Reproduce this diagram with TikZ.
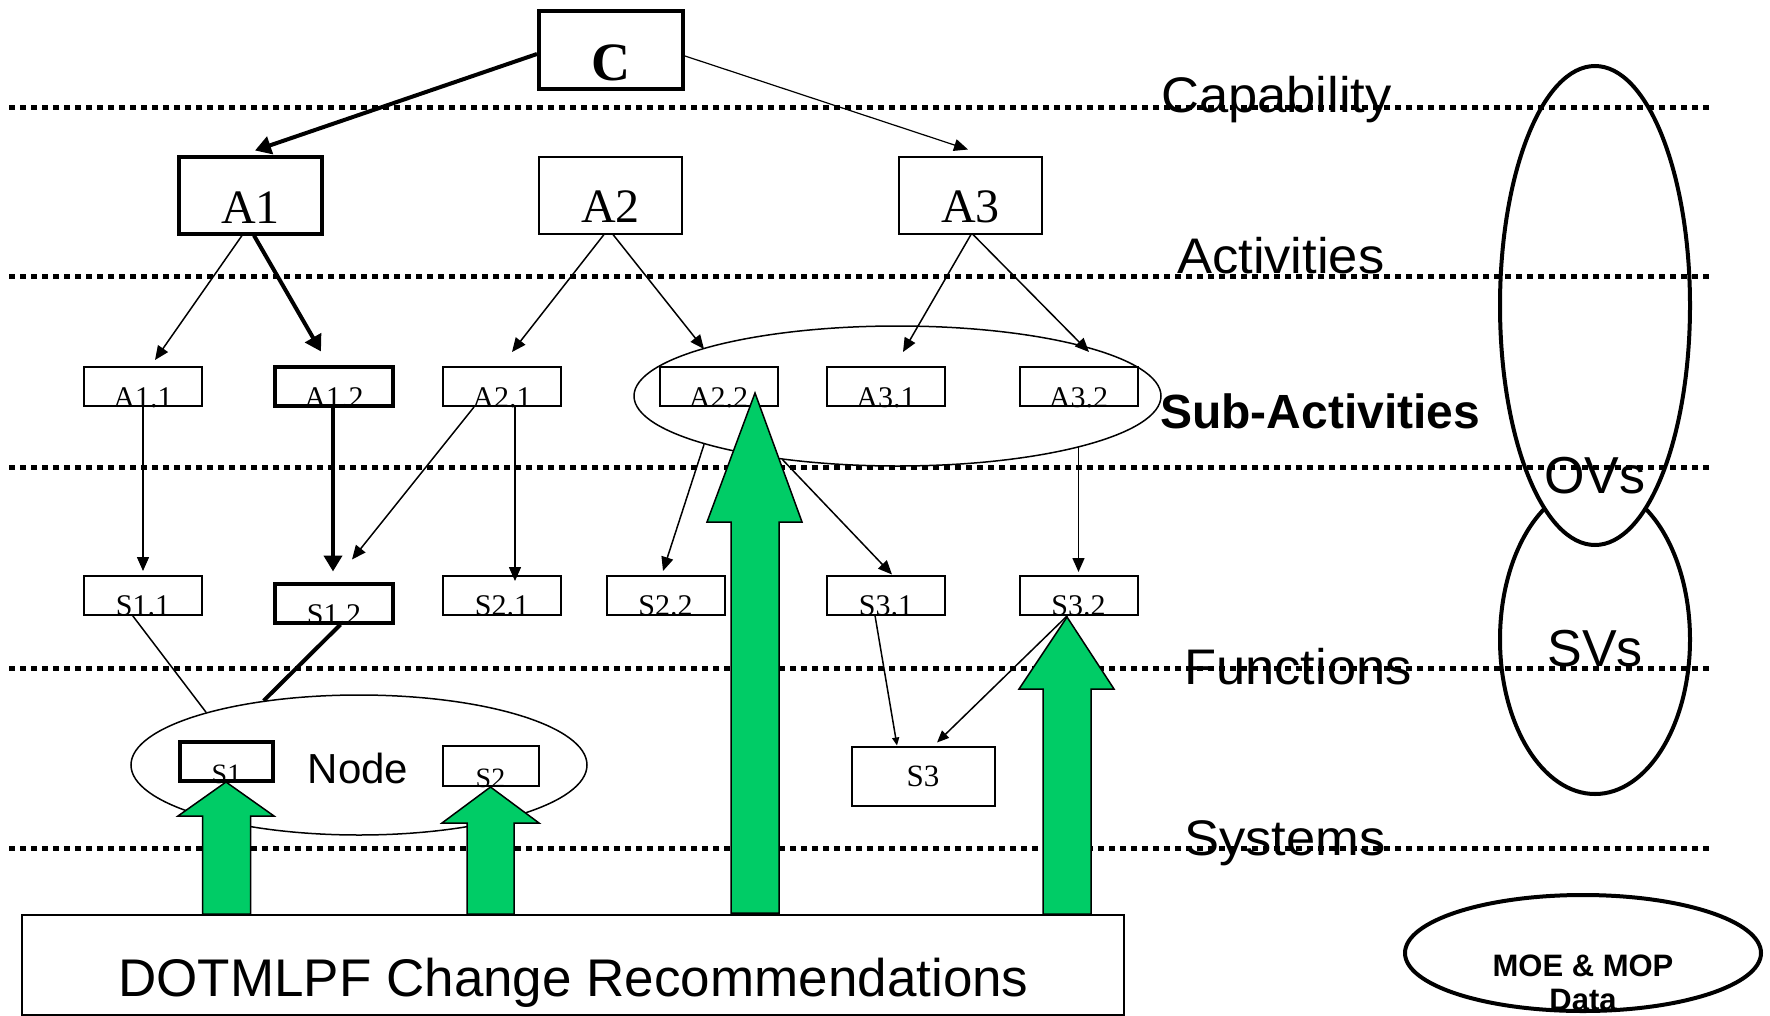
\documentclass[tikz,border=0pt]{standalone}
\usepackage{fontspec}
\setmainfont{Liberation Serif}
\newfontfamily\lblfont[FakeStretch=1.05]{Liberation Sans}
\newfontfamily\arialfont{Liberation Sans}
\usetikzlibrary{arrows.meta,shapes.geometric}
\definecolor{fgreen}{RGB}{0,204,102}
\begin{document}
\begin{tikzpicture}[x=1pt,y=-1pt,
  bx/.style={draw, rectangle, line width=2pt, inner sep=0pt},
  tbx/.style={bx, line width=4pt},
  ell/.style={draw, ellipse, inner sep=0pt},
  rowbox/.style={minimum width=118pt, minimum height=39pt},
  topbox/.style={minimum width=143pt, minimum height=77pt},
  dotline/.style={line width=5pt, dash pattern=on 5.5pt off 5.5pt},
  bigtxt/.style={font=\fontsize{48}{57}\selectfont, inner sep=0pt, anchor=base},
  smalltxt/.style={font=\fontsize{30}{36}\selectfont, inner sep=0pt, anchor=base},
  lbl/.style={font=\lblfont\fontsize{50}{60}\selectfont, inner sep=0pt, anchor=base west},
  sublbl/.style={font=\arialfont\bfseries\fontsize{48}{58}\selectfont, inner sep=0pt, anchor=base west},
  viewtxt/.style={font=\arialfont\fontsize{52}{62}\selectfont, inner sep=0pt, anchor=base},
  arr/.style={-{Triangle[length=14pt,width=12pt]}, line width=1.5pt},
  tarr/.style={-{Triangle[length=16pt,width=18pt]}, line width=4pt},
  garrow/.style={fill=fgreen, draw=black, line width=1.5pt, line join=miter}
]
\useasboundingbox (0,0) rectangle (1770,1015);
\clip (0,0) rectangle (1770,1015);

% view ellipses
\node[ell, line width=4pt, fill=white, minimum width=190pt, minimum height=309pt] (SV) at (1595,639.5) {};
\node[ell, line width=4pt, fill=white, minimum width=190pt, minimum height=479pt] (OV) at (1595,305.5) {};
\node[ell, line width=4pt, minimum width=356pt, minimum height=116pt] (MOE) at (1583,953) {};

% dotted level lines
\foreach \yy in {107,276,467,668,848} \draw[dotline] (9,\yy) -- (1711,\yy);

% top boxes
\node[tbx, minimum width=144pt, minimum height=78pt] (C) at (611,50) {};
\node[tbx, topbox] (A1) at (250.5,195) {};
\node[bx, topbox] (A2) at (610.5,195) {};
\node[bx, topbox] (A3) at (970.5,195) {};

% sub-activity boxes
\node[bx, rowbox] (A11) at (143,386.5) {};
\node[tbx, rowbox] (A12) at (334,386) {};
\node[bx, rowbox] (A21) at (502,386.5) {};
\node[bx, rowbox] (A22) at (718.5,386.5) {};
\node[bx, rowbox] (A31) at (886,386.5) {};
\node[bx, rowbox] (A32) at (1078.5,386.5) {};

% function boxes
\node[bx, rowbox] (S11) at (143,595) {};
\node[tbx, rowbox] (S12) at (334,603) {};
\node[bx, rowbox] (S21) at (502,595) {};
\node[bx, rowbox] (S22) at (665.5,595) {};
\node[bx, rowbox] (S31) at (886,595) {};
\node[bx, rowbox] (S32) at (1078.5,595) {};

% system boxes
\node[tbx, minimum width=93pt, minimum height=39pt] (S1) at (226.5,761.5) {};
\node[bx, minimum width=96pt, minimum height=40pt] (S2) at (490.5,766) {};
\node[bx, minimum width=143pt, minimum height=59pt, font=\fontsize{31}{37}\selectfont] (S3) at (923,776) {S3};

% ellipses around groups
\node[ell, line width=1.5pt, minimum width=527pt, minimum height=140pt] (SubE) at (897.5,396) {};
\node[ell, line width=1.5pt, minimum width=456pt, minimum height=140pt] (NodeE) at (359,765) {};

% box texts
\node[bigtxt, font=\bfseries\fontsize{54}{64}\selectfont] (tC) at ([yshift=11pt]C.south) {C};
\node[bigtxt] (tA1) at ([yshift=12pt]A1.south) {A1};
\node[bigtxt] (tA2) at ([yshift=12pt]A2.south) {A2};
\node[bigtxt] (tA3) at ([yshift=12pt]A3.south) {A3};
\node[smalltxt] (tA11) at (A11.south) {A1.1};
\node[smalltxt] (tA12) at (A12.south) {A1.2};
\node[smalltxt] (tA21) at (A21.south) {A2.1};
\node[smalltxt] (tA22) at (A22.south) {A2.2};
\node[smalltxt] (tA31) at (A31.south) {A3.1};
\node[smalltxt] (tA32) at (A32.south) {A3.2};
\node[smalltxt] (tS11) at (S11.south) {S1.1};
\node[smalltxt] (tS12) at (S12.south) {S1.2};
\node[smalltxt] (tS21) at (S21.south) {S2.1};
\node[smalltxt] (tS22) at (S22.south) {S2.2};
\node[smalltxt] (tS31) at (S31.south) {S3.1};
\node[smalltxt] (tS32) at (S32.south) {S3.2};
\node[smalltxt, font=\fontsize{28}{34}\selectfont] (tS1) at (S1.south) {S1};
\node[smalltxt, font=\fontsize{28}{34}\selectfont] (tS2) at (S2.south) {S2};
\node[font=\arialfont\fontsize{42}{50}\selectfont, inner sep=0pt, anchor=base] (tNode) at (358,783) {Node};

% DOTMLPF box
\node[bx, minimum width=1102pt, minimum height=100pt] (DOT) at (573,964.5) {};
\node[font=\arialfont\fontsize{53}{63}\selectfont, inner sep=0pt, anchor=base] (tDOT) at (573.5,996) {DOTMLPF Change Recommendations};

% green change arrows
\draw[garrow] (202.5,914) -- (202.5,816) -- (178,816) -- (226,782) -- (274,816) -- (250.5,816) -- (250.5,914) -- cycle;
\draw[garrow] (467,914) -- (467,823) -- (442,823) -- (490.5,787) -- (539,823) -- (514,823) -- (514,914) -- cycle;
\draw[garrow] (731,913) -- (731,522) -- (707,522) -- (755,393) -- (802,522) -- (779,522) -- (779,913) -- cycle;
\draw[garrow] (1043,914) -- (1043,689) -- (1019,689) -- (1067,617) -- (1114,689) -- (1091,689) -- (1091,914) -- cycle;

% connectors
\draw[tarr] ([yshift=-4pt]C.west) -- ([xshift=4.5pt,yshift=4pt]A1.north);
\draw[arr, line width=1.2pt] ([yshift=-6pt]C.east) -- ([xshift=-2.5pt,yshift=6pt]A3.north);
\draw[arr] ([xshift=-8.5pt]A1.south) -- ([xshift=12pt,yshift=6pt]A11.north);
\draw[tarr] ([xshift=3.5pt]A1.south) -- ([xshift=-13pt,yshift=13pt]A12.north);
\draw[arr] ([xshift=-6.5pt]A2.south) -- ([xshift=10pt,yshift=14pt]A21.north);
\draw[arr] ([xshift=2.5pt]A2.south) -- ([xshift=-14.5pt,yshift=17pt]A22.north);
\draw[arr] ([xshift=0.5pt]A3.south) -- ([xshift=17pt,yshift=14pt]A31.north);
\draw[arr] ([xshift=2.5pt]A3.south) -- ([xshift=10.5pt,yshift=14pt]A32.north);
\draw[arr] (A11.south) -- ([yshift=3.5pt]S11.north);
\draw[tarr] ([xshift=-1pt]A12.south) -- ([xshift=-1pt,yshift=10pt]S12.north);
\draw[arr] ([xshift=-28pt]A21.south) -- ([xshift=18pt,yshift=22pt]S12.north);
\draw[arr] ([xshift=13pt]A21.south) -- ([xshift=13pt,yshift=-6.5pt]S21.north);
\draw[arr] (SubE.-166) -- ([xshift=-2.5pt,yshift=3.5pt]S22.north);
\draw[arr] (SubE.-151) -- ([xshift=6pt]S31.north);
\draw[arr] (S32.north |- SubE.-15.6) -- ([yshift=2.5pt]S32.north);
\draw[-{Triangle[length=8pt,width=7pt]}, line width=1.5pt] ([xshift=-11pt]S31.south) -- ([xshift=-26pt]S3.north);
\draw[-{Triangle[length=12pt,width=10pt]}, line width=1.5pt] ([xshift=-11pt]S32.south) -- ([xshift=14pt,yshift=3pt]S3.north);
\draw[line width=1.5pt] ([xshift=-10.5pt]S11.south) -- (NodeE.161);
\draw[line width=4pt] ([xshift=6.5pt]S12.south) -- (NodeE.146);

% level labels
\node[lbl] (lCap) at (1161,112) {Capability};
\node[lbl] (lAct) at (1177,273) {Activities};
\node[sublbl] (lSub) at (1160,428) {Sub-Activities};
\node[lbl] (lFun) at (1184,684) {Functions};
\node[lbl] (lSys) at (1184,855) {Systems};
\node[viewtxt] (tOV) at (1595,493) {OVs};
\node[viewtxt] (tSV) at (1595,666) {SVs};
\node[font=\arialfont\bfseries\fontsize{31}{37}\selectfont, inner sep=0pt, anchor=base] (tMOE1) at (1583,976) {MOE \& MOP};
\node[font=\arialfont\bfseries\fontsize{31}{37}\selectfont, inner sep=0pt, anchor=base] (tMOE2) at (1583,1010) {Data};
\end{tikzpicture}
\end{document}
